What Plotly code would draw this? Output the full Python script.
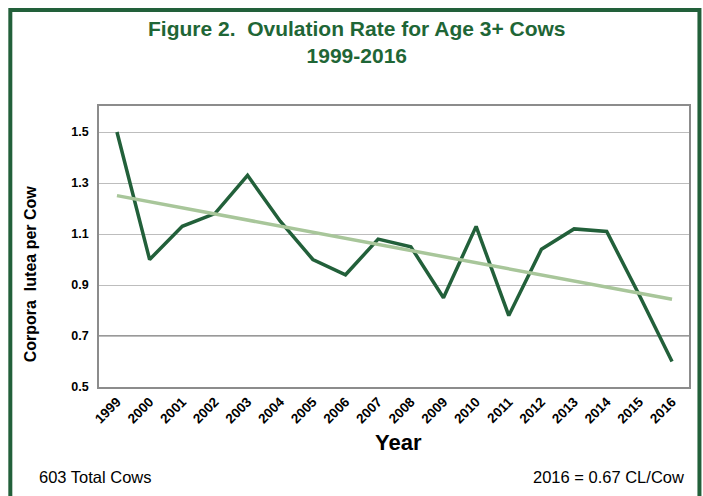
import numpy as np
import plotly.graph_objects as go

years = [str(y) for y in range(1999, 2017)]
cl_per_cow = [1.50, 1.00, 1.13, 1.18, 1.33, 1.15, 1.00, 0.94, 1.08, 1.05,
              0.85, 1.13, 0.78, 1.04, 1.12, 1.11, 0.86, 0.60]
y_ticks = [0.5, 0.7, 0.9, 1.1, 1.3, 1.5]
y_tick_labels = ["0.5", "0.7", "0.9", "1.1", "1.3", "1.5"]

# linear trend line fitted to the data
idx = np.arange(len(years))
slope, intercept = np.polyfit(idx, cl_per_cow, 1)
trend = slope * idx + intercept

DARK = "#22603A"
LIGHT = "#A8C69A"
FONT = "Liberation Sans, Arial, sans-serif"

fig = go.Figure()
fig.add_trace(go.Scatter(x=years, y=cl_per_cow, mode="lines",
                         line=dict(color=DARK, width=3.5), showlegend=False))
fig.add_trace(go.Scatter(x=years, y=trend, mode="lines",
                         line=dict(color=LIGHT, width=3.5), showlegend=False))

# emphasised 0.7 gridline
fig.add_shape(type="line", xref="paper", yref="y", x0=0, x1=1, y0=0.7, y1=0.7,
              line=dict(color="#333333", width=1), layer="below")

# outer green frame
fig.add_shape(type="rect", xref="paper", yref="paper",
              x0=-0.1503, x1=1.0177, y0=-0.45, y1=1.342,
              line=dict(color=DARK, width=4), layer="below")

fig.update_layout(
    width=703, height=496,
    margin=dict(l=99, r=12, t=106, b=109),
    paper_bgcolor="white", plot_bgcolor="white",
    font=dict(family=FONT, color="black"),
    xaxis=dict(type="category", range=[-0.55, 17.52], tickangle=-45,
               tickfont=dict(size=13.5, weight="bold"), showgrid=False,
               showline=True, linecolor="#8C8C8C", linewidth=1.5, mirror=True,
               ticks="", fixedrange=True),
    yaxis=dict(range=[0.5, 1.602], tickvals=y_ticks, ticktext=y_tick_labels,
               tickfont=dict(size=12.5, weight="bold"), showgrid=True,
               gridcolor="#BDBDBD", gridwidth=1,
               showline=True, linecolor="#8C8C8C", linewidth=1.5, mirror=True,
               ticks="", ticklabelstandoff=6, zeroline=False),
    annotations=[
        dict(text="Figure 2.  Ovulation Rate for Age 3+ Cows<br>1999-2016",
             xref="paper", yref="paper", x=0.437, y=(387 - 42) / 281,
             xanchor="center", yanchor="middle", showarrow=False,
             font=dict(size=21, weight="bold", color="#1F6636")),
        dict(text="Corpora  lutea per Cow", xref="paper", yref="paper",
             x=-0.1166, y=0.402, xanchor="center", yanchor="middle",
             textangle=-90, showarrow=False,
             font=dict(size=16, weight="bold")),
        dict(text="Year", xref="paper", yref="paper", x=0.508, y=-0.199,
             xanchor="center", yanchor="middle",
             showarrow=False, font=dict(size=22, weight="bold")),
        dict(text="603 Total Cows", xref="paper", yref="paper", x=-0.1047,
             y=-0.32, xanchor="left", yanchor="middle", showarrow=False,
             font=dict(size=16.5)),
        dict(text="2016 = 0.67 CL/Cow", xref="paper", yref="paper", x=0.995,
             y=-0.32, xanchor="right", yanchor="middle", showarrow=False,
             font=dict(size=16.5)),
    ],
)

fig.write_html("out.html")
